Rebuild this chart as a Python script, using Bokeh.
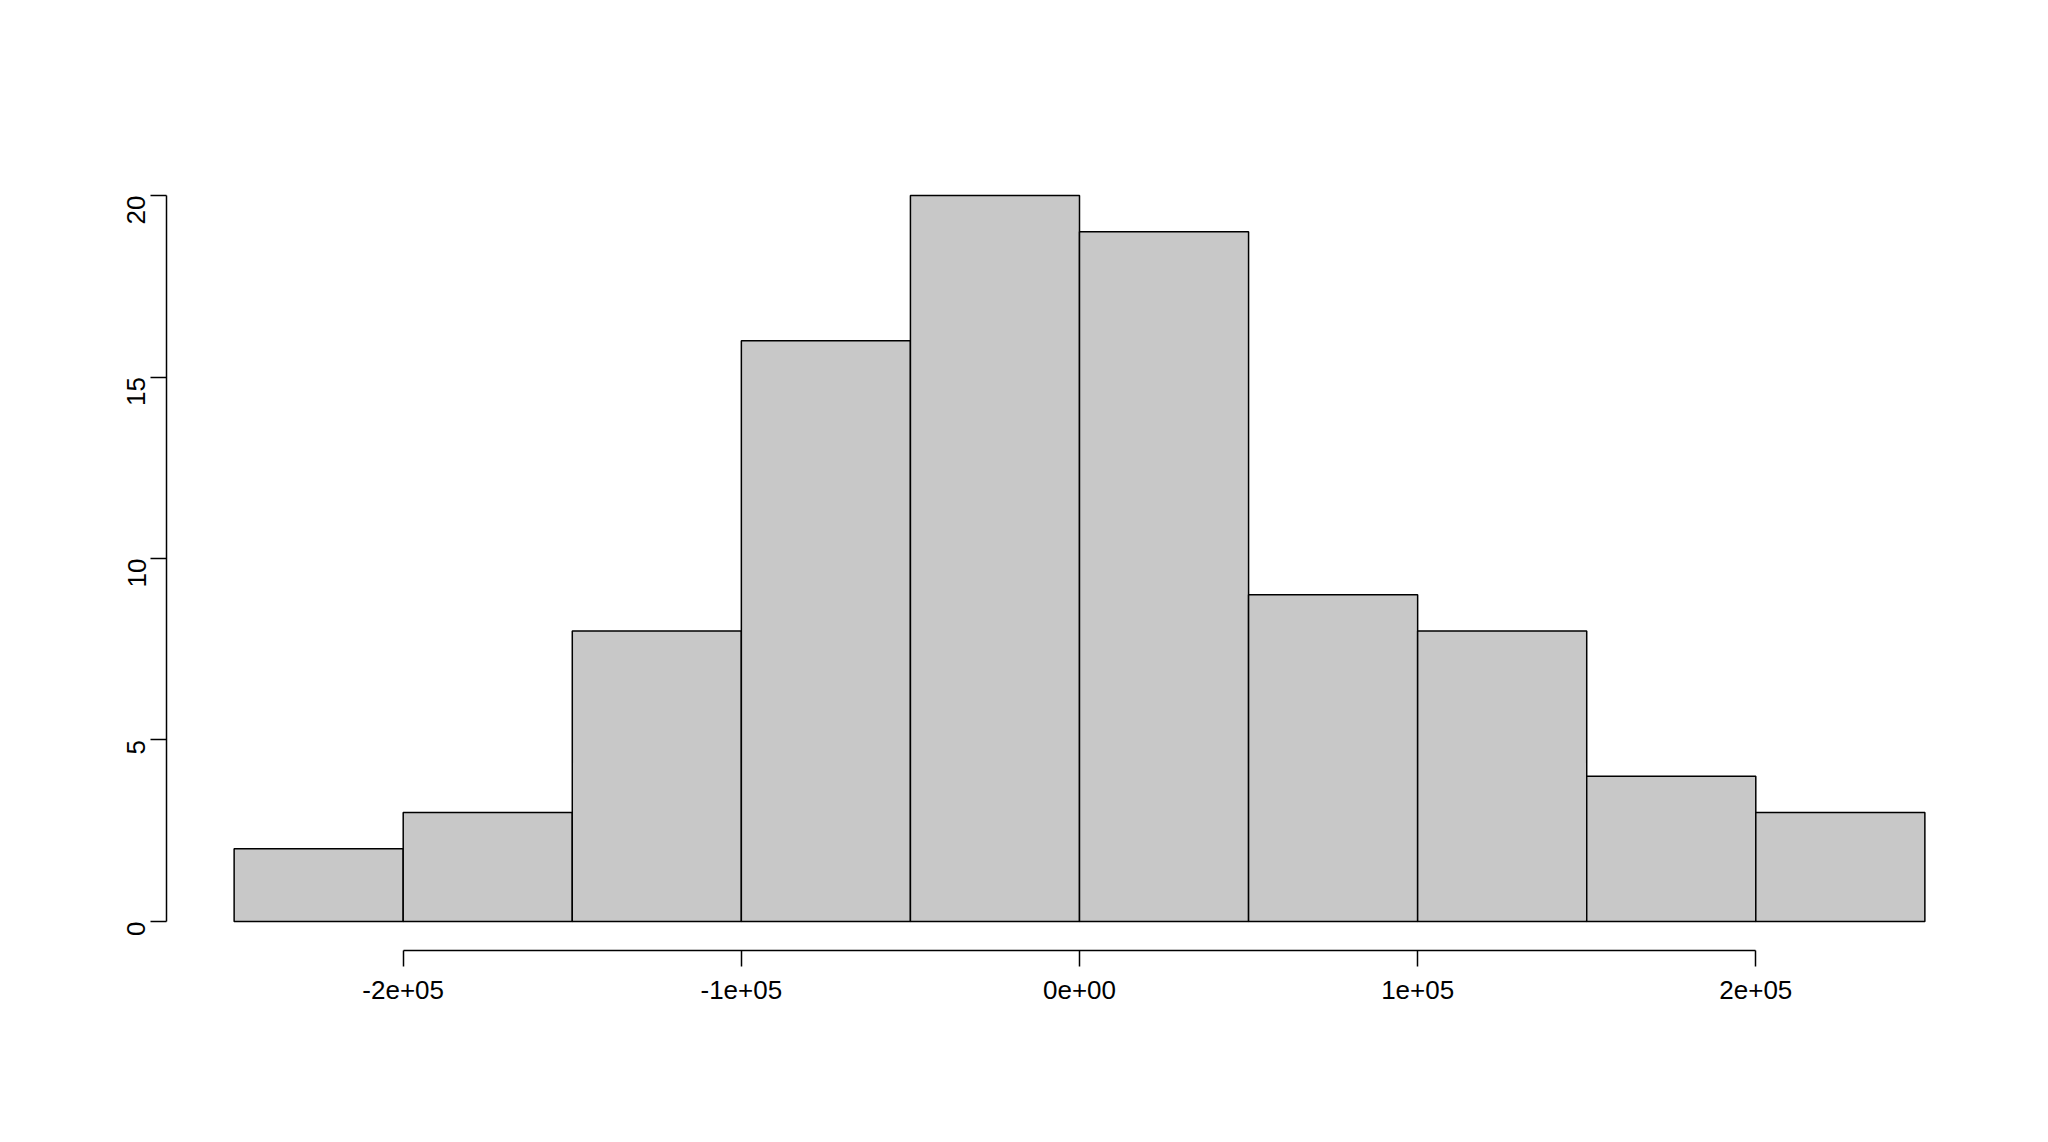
from bokeh.plotting import figure
from bokeh.models import FixedTicker, Range1d, Label
from bokeh.embed import file_html
from bokeh.resources import INLINE
import math

# histogram bins of residuals(model)
bin_edges = [-250000, -200000, -150000, -100000, -50000, 0, 50000, 100000, 150000, 200000, 250000]
counts = [2, 3, 8, 16, 20, 19, 9, 8, 4, 3]
x_ticks = [-200000, -100000, 0, 100000, 200000]
x_tick_labels = ["-2e+05", "-1e+05", "0e+00", "1e+05", "2e+05"]
y_ticks = [0, 5, 10, 15, 20]

FONT = "Liberation Sans"

p = figure(width=2030, height=1124, output_backend="svg", toolbar_location=None,
           x_range=Range1d(-270000, 270000), y_range=Range1d(-0.8, 20.8),
           min_border_left=166, min_border_right=38, min_border_top=166, min_border_bottom=174)

p.quad(left=bin_edges[:-1], right=bin_edges[1:], bottom=0, top=counts,
       fill_color="#C8C8C8", line_color="black", line_width=1.5)

p.outline_line_color = None
p.grid.grid_line_color = None
p.background_fill_color = "white"
p.border_fill_color = "white"

for ax in (p.xaxis[0], p.yaxis[0]):
    ax.axis_line_width = 1.5
    ax.major_tick_line_width = 1.5
    ax.major_tick_out = 16
    ax.major_tick_in = 0
    ax.minor_tick_line_color = None
    ax.major_label_text_font = FONT
    ax.major_label_text_font_size = "26px"
    ax.major_label_text_color = "black"
    ax.major_label_standoff = 14

p.xaxis[0].ticker = FixedTicker(ticks=x_ticks)
p.xaxis[0].bounds = (x_ticks[0], x_ticks[-1])
p.xaxis[0].major_label_overrides = {t: l for t, l in zip(x_ticks, x_tick_labels)}
p.yaxis[0].ticker = FixedTicker(ticks=y_ticks)
p.yaxis[0].bounds = (y_ticks[0], y_ticks[-1])
p.yaxis[0].major_label_orientation = math.pi / 2

p.add_layout(Label(x=0, y=23.07, text="Residuals", text_align="center", text_baseline="middle",
                   text_font=FONT, text_font_size="34px", text_font_style="bold"))
p.add_layout(Label(x=0, y=-4.78, text="residuals(model)", text_align="center", text_baseline="middle",
                   text_font=FONT, text_font_size="26px"))
p.add_layout(Label(x=-311000, y=10, text="Frequency", text_align="center", text_baseline="middle",
                   angle=math.pi / 2, text_font=FONT, text_font_size="26px"))

open("out.html", "w").write(file_html(p, INLINE))
